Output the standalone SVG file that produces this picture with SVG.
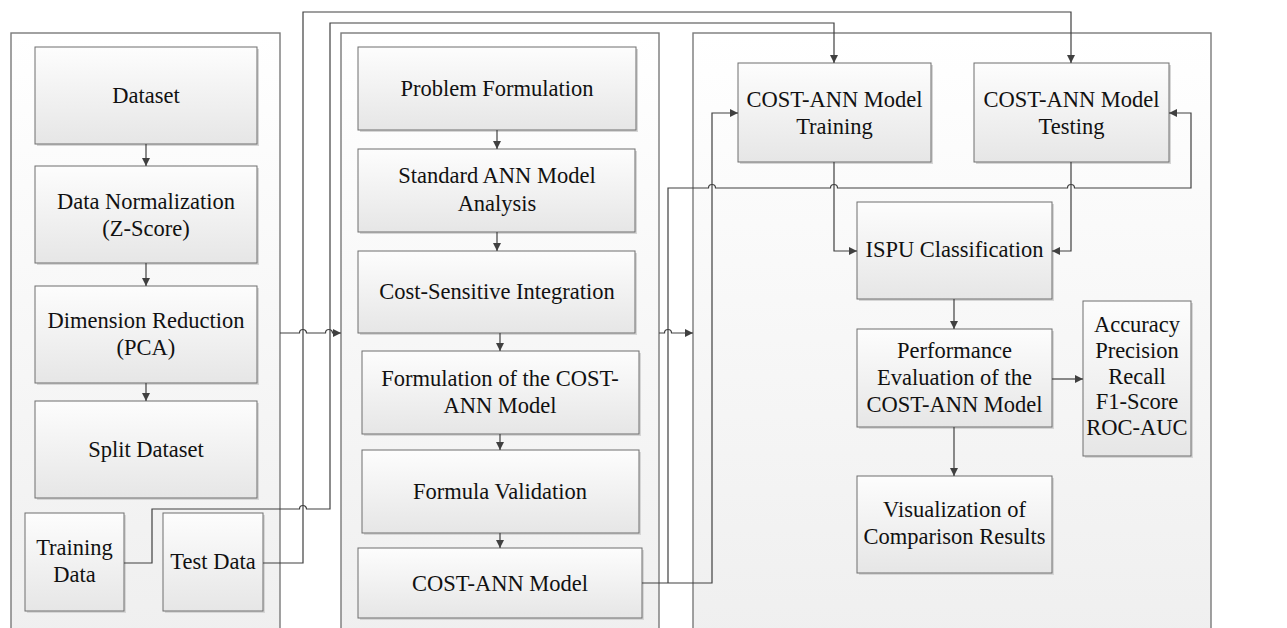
<svg xmlns="http://www.w3.org/2000/svg" width="1287" height="628" viewBox="0 0 1287 628" font-family="'Liberation Serif', serif">
<defs>
<linearGradient id="gPanel" x1="0" y1="0" x2="0" y2="1"><stop offset="0" stop-color="#ffffff"/><stop offset="1" stop-color="#efefef"/></linearGradient>
<linearGradient id="gBox" x1="0" y1="0" x2="0" y2="1"><stop offset="0" stop-color="#fdfdfd"/><stop offset="1" stop-color="#e6e6e6"/></linearGradient>
<marker id="arr" viewBox="0 0 10 10" refX="10" refY="5" markerWidth="9" markerHeight="8" markerUnits="userSpaceOnUse" orient="auto"><path d="M0,0 L10,5 L0,10 z" fill="#404040"/></marker>
<style>
.panel{fill:url(#gPanel);stroke:#7a7a7a;stroke-width:1.4}
.box{fill:url(#gBox);stroke:#6e6e6e;stroke-width:1}
.sh{fill:#d6d6d6}
.t{font-family:'Liberation Serif',serif;font-size:22.5px;fill:#111;text-anchor:middle}
.ca{fill:none;stroke:#404040;stroke-width:1.2;marker-end:url(#arr)}
</style>
</defs>
<rect width="1287" height="628" fill="#ffffff"/>
<g id="panels">
<rect class="panel" x="11" y="33" width="269" height="610"/>
<rect class="panel" x="341" y="33" width="318" height="610"/>
<rect class="panel" x="693" y="33" width="518" height="610"/>
</g>
<g id="dataset"><rect class="sh" x="37" y="49" width="222" height="97"/><rect class="box" x="35" y="47" width="222" height="97"/><text class="t" x="146" y="103">Dataset</text></g>
<g id="normalization"><rect class="sh" x="37" y="168" width="222" height="97"/><rect class="box" x="35" y="166" width="222" height="97"/><text class="t" x="146" y="209">Data Normalization<tspan x="146" dy="27">(Z-Score)</tspan></text></g>
<g id="reduction"><rect class="sh" x="37" y="288" width="222" height="97"/><rect class="box" x="35" y="286" width="222" height="97"/><text class="t" x="146" y="328">Dimension Reduction<tspan x="146" dy="27">(PCA)</tspan></text></g>
<g id="split"><rect class="sh" x="37" y="403" width="222" height="97"/><rect class="box" x="35" y="401" width="222" height="97"/><text class="t" x="146" y="457">Split Dataset</text></g>
<g id="trainingdata"><rect class="sh" x="27" y="515" width="99" height="98"/><rect class="box" x="25" y="513" width="99" height="98"/><text class="t" x="74.5" y="555">Training<tspan x="74.5" dy="27">Data</tspan></text></g>
<g id="testdata"><rect class="sh" x="165" y="515" width="100" height="98"/><rect class="box" x="163" y="513" width="100" height="98"/><text class="t" x="213" y="569">Test Data</text></g>
<g id="problem"><rect class="sh" x="360" y="49" width="278" height="83"/><rect class="box" x="358" y="47" width="278" height="83"/><text class="t" x="497" y="96">Problem Formulation</text></g>
<g id="standard"><rect class="sh" x="360" y="151" width="277" height="83"/><rect class="box" x="358" y="149" width="277" height="83"/><text class="t" x="497" y="183">Standard ANN Model<tspan x="497" dy="28">Analysis</tspan></text></g>
<g id="costsensitive"><rect class="sh" x="360" y="253" width="277" height="82"/><rect class="box" x="358" y="251" width="277" height="82"/><text class="t" x="497" y="299">Cost-Sensitive Integration</text></g>
<g id="formulation"><rect class="sh" x="364" y="353" width="277" height="83"/><rect class="box" x="362" y="351" width="277" height="83"/><text class="t" x="500" y="386">Formulation of the COST-<tspan x="500" dy="27">ANN Model</tspan></text></g>
<g id="validation"><rect class="sh" x="364" y="452" width="277" height="83"/><rect class="box" x="362" y="450" width="277" height="83"/><text class="t" x="500" y="499">Formula Validation</text></g>
<g id="model"><rect class="sh" x="360" y="550" width="284" height="70"/><rect class="box" x="358" y="548" width="284" height="70"/><text class="t" x="500" y="591">COST-ANN Model</text></g>
<g id="training"><rect class="sh" x="740" y="65" width="193" height="99"/><rect class="box" x="738" y="63" width="193" height="99"/><text class="t" x="834.5" y="107">COST-ANN Model<tspan x="834.5" dy="27">Training</tspan></text></g>
<g id="testing"><rect class="sh" x="976" y="65" width="195" height="99"/><rect class="box" x="974" y="63" width="195" height="99"/><text class="t" x="1071.5" y="107">COST-ANN Model<tspan x="1071.5" dy="27">Testing</tspan></text></g>
<g id="ispu"><rect class="sh" x="859" y="204" width="195" height="97"/><rect class="box" x="857" y="202" width="195" height="97"/><text class="t" x="954.5" y="257">ISPU Classification</text></g>
<g id="performance"><rect class="sh" x="859" y="331" width="195" height="98"/><rect class="box" x="857" y="329" width="195" height="98"/><text class="t" x="954.5" y="358">Performance<tspan x="954.5" dy="27">Evaluation of the</tspan><tspan x="954.5" dy="27">COST-ANN Model</tspan></text></g>
<g id="metrics"><rect class="sh" x="1085" y="303" width="108" height="155"/><rect class="box" x="1083" y="301" width="108" height="155"/><text class="t" x="1137" y="332">Accuracy<tspan x="1137" dy="25.75">Precision</tspan><tspan x="1137" dy="25.75">Recall</tspan><tspan x="1137" dy="25.75">F1-Score</tspan><tspan x="1137" dy="25.75">ROC-AUC</tspan></text></g>
<g id="visualization"><rect class="sh" x="859" y="478" width="195" height="97"/><rect class="box" x="857" y="476" width="195" height="97"/><text class="t" x="954.5" y="517">Visualization of<tspan x="954.5" dy="27">Comparison Results</tspan></text></g>
<g id="connectors">
<path class="ca" d="M146,144 V166"/>
<path class="ca" d="M146,263 V286"/>
<path class="ca" d="M146,383 V401"/>
<path class="ca" d="M280,333 H299.5 A3.5,3.5 0 0 1 306.5,333 H325.5 A3.5,3.5 0 0 1 332.5,333 H341"/>
<path class="ca" d="M263,563 H303 V12 H1071 V63"/>
<path class="ca" d="M124,563 H152 V509 H299.5 A3.5,3.5 0 0 1 306.5,509 H330 V23 H834 V63"/>
<path class="ca" d="M497,130 V149"/>
<path class="ca" d="M497,232 V251"/>
<path class="ca" d="M500,333 V351"/>
<path class="ca" d="M500,434 V450"/>
<path class="ca" d="M500,533 V548"/>
<path class="ca" d="M659,333 H664.5 A3.5,3.5 0 0 1 671.5,333 H693"/>
<path class="ca" d="M642,583 H712 V113 H738"/>
<path class="ca" d="M668,583 V188 H708.5 A3.5,3.5 0 0 1 715.5,188 H830.5 A3.5,3.5 0 0 1 837.5,188 H1067.5 A3.5,3.5 0 0 1 1074.5,188 H1191 V113 H1169"/>
<path class="ca" d="M834,162 V251 H857"/>
<path class="ca" d="M1071,162 V251 H1052"/>
<path class="ca" d="M954,299 V329"/>
<path class="ca" d="M1052,379 H1083"/>
<path class="ca" d="M954,427 V476"/>
</g>
</svg>
